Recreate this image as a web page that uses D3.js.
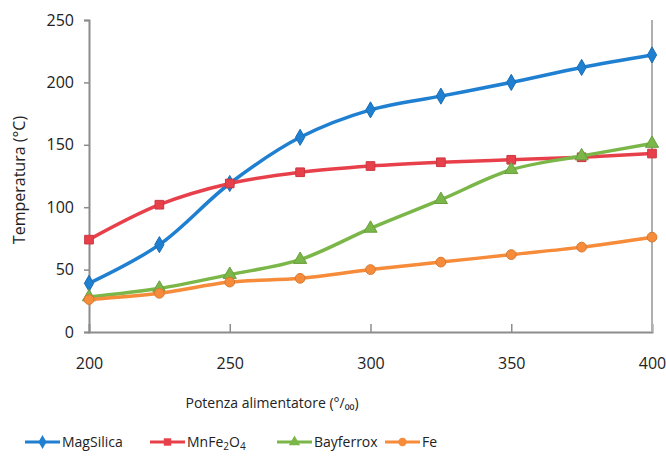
<!DOCTYPE html>
<html>
<head>
<meta charset="utf-8">
<script src="https://cdn.jsdelivr.net/npm/d3@7"></script>
<style>
  body { margin: 0; background: #fff; }
  svg text { font-family: "Open Sans", "DejaVu Sans", sans-serif; fill: #222; }
</style>
</head>
<body>
<div id="chart"></div>
<script>
// x = power setting (per mille), y = temperature (°C)
const POWER = [200, 225, 250, 275, 300, 325, 350, 375, 400];
const MAGSILICA = [39, 70, 119, 156, 178, 189, 200, 212, 222];
const MNFE2O4  = [74, 102, 119, 128, 133, 136, 138, 140, 143];
const BAYFERROX = [28, 35, 46, 58, 83, 106, 130, 141, 151];
const FE       = [26, 31, 40, 43, 50, 56, 62, 68, 76];
const X_TICKS = [200, 250, 300, 350, 400];
const Y_TICKS = [0, 50, 100, 150, 200, 250];

const SERIES = [
  { name: 'MagSilica', label: ['MagSilica'], values: MAGSILICA, color: '#1f7fd0', symbol: d3.symbolDiamond },
  { name: 'MnFe2O4', label: ['MnFe', '2', 'O', '4'], values: MNFE2O4, color: '#e8404a', symbol: d3.symbolSquare },
  { name: 'Bayferrox', label: ['Bayferrox'], values: BAYFERROX, color: '#7ab648', symbol: d3.symbolTriangle },
  { name: 'Fe', label: ['Fe'], values: FE, color: '#f68b3a', symbol: d3.symbolCircle },
];

const W = 666, H = 457;
const M = { top: 20, right: 14, bottom: 125, left: 89 };

const svg = d3.select('#chart').append('svg').attr('width', W).attr('height', H);

const x = d3.scaleLinear().domain([200, 400]).range([M.left, W - M.right]);
const y = d3.scaleLinear().domain([0, 250]).range([H - M.bottom, M.top]);

// axes
const axisColor = '#8c8c8c';
const gx = svg.append('g').attr('transform', `translate(0,${y(0)})`)
  .call(d3.axisBottom(x).tickValues(X_TICKS).tickSize(-8).tickPadding(26));
const gy = svg.append('g').attr('transform', `translate(${M.left},0)`)
  .call(d3.axisLeft(y).tickValues(Y_TICKS).tickSize(5).tickPadding(10));
[gx, gy].forEach(g => {
  g.select('.domain').attr('stroke', axisColor).attr('stroke-width', 2);
  g.selectAll('.tick line').attr('stroke', axisColor).attr('stroke-width', 1.5);
  g.selectAll('.tick text').style('font-size', '16px').attr('fill', '#333');
});
gx.selectAll('.tick').filter(d => d === 200 || d === 400).select('line').remove();

// right border of plot
svg.append('line')
  .attr('x1', x(400)).attr('x2', x(400))
  .attr('y1', y(250)).attr('y2', y(0))
  .attr('stroke', '#b0b0b0').attr('stroke-width', 2);

// titles
svg.append('text').attr('x', 272).attr('y', 408).attr('text-anchor', 'middle')
  .style('font-size', '14px').text('Potenza alimentatore (°/\u2080\u2080)');
svg.append('text').attr('transform', 'translate(25,180) rotate(-90)')
  .attr('text-anchor', 'middle').style('font-size', '16px').text('Temperatura (°C)');

// series
const line = d3.line().x((d, i) => x(POWER[i])).y(d => y(d)).curve(d3.curveCatmullRom.alpha(0.5));
SERIES.forEach(s => {
  svg.append('path').datum(s.values).attr('d', line)
    .attr('fill', 'none').attr('stroke', s.color).attr('stroke-width', 3.5);
  svg.selectAll(null).data(s.values).enter().append('path')
    .attr('transform', (d, i) => `translate(${x(POWER[i])},${y(d)})`)
    .attr('d', d3.symbol().type(s.symbol).size(75))
    .attr('fill', s.color).attr('stroke', d3.color(s.color).darker(0.4)).attr('stroke-width', 1);
});

// legend
const LEG_X = [25, 150, 277, 385];
SERIES.forEach((s, i) => {
  const g = svg.append('g').attr('transform', `translate(${LEG_X[i]},447)`);
  g.append('line').attr('x1', 0).attr('x2', 35).attr('y1', -5).attr('y2', -5)
    .attr('stroke', s.color).attr('stroke-width', 3);
  g.append('path').attr('transform', 'translate(17.5,-5)')
    .attr('d', d3.symbol().type(s.symbol).size(55)).attr('fill', s.color);
  const t = g.append('text').attr('x', 37).attr('y', 0).style('font-size', '14px');
  s.label.forEach((part, k) => {
    const sub = k % 2 === 1;
    t.append('tspan').text(part)
      .style('font-size', sub ? '10px' : '14px')
      .attr('dy', sub ? 3 : (k > 0 ? -3 : 0));
  });
});
</script>
</body>
</html>
